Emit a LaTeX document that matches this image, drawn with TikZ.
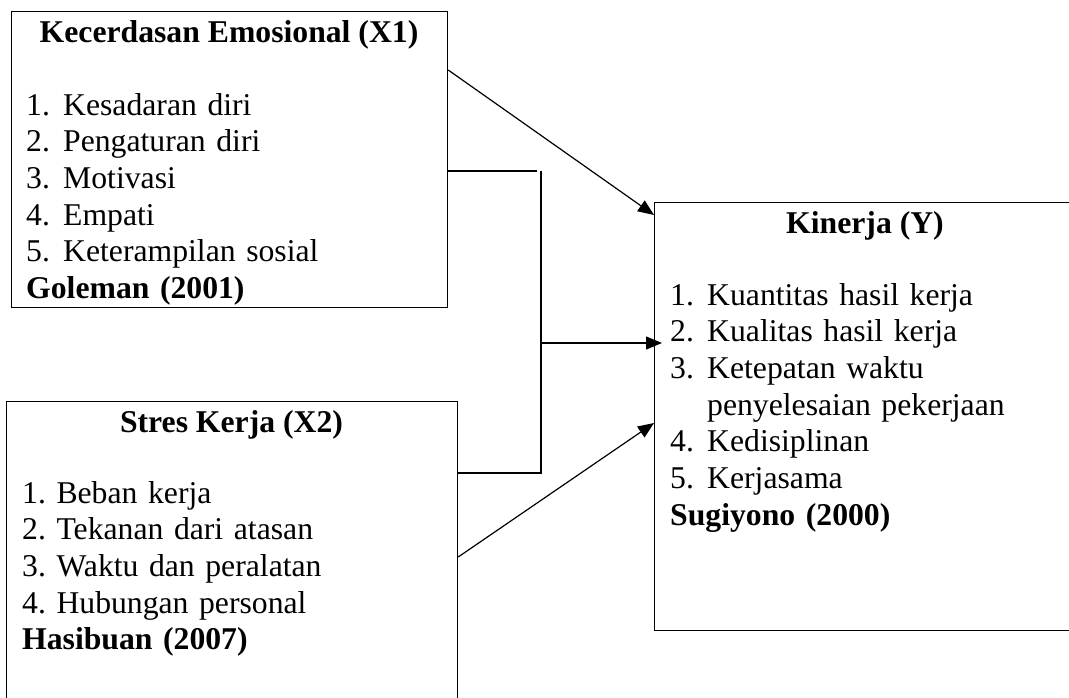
\documentclass[tikz,border=0pt]{standalone}
\usepackage{fontspec}
\setmainfont{Liberation Serif}
\usetikzlibrary{arrows.meta}
\frenchspacing

\newcommand{\itemno}[1]{\makebox[37pt][l]{#1}}

\tikzset{
    box/.style={draw, line width=1.2pt, inner sep=0pt, anchor=north west},
    head/.style={font=\fontsize{31.7}{36.7}\selectfont\bfseries, inner sep=0pt, anchor=base},
    items/.style={font=\fontsize{31.7}{36.7}\selectfont\frenchspacing, inner sep=0pt, anchor=base west, text width=400pt, align=left},
    link/.style={line width=1.2pt},
    arr/.style={link, -{Triangle[length=16pt, width=13pt]}}
}

\begin{document}
\begin{tikzpicture}[x=1pt, y=-1pt]
        \useasboundingbox (0, 0) rectangle (1069, 697);
        \clip (0, 0) rectangle (1069, 697);

        \node[box, minimum width=436pt, minimum height=296pt] (X1) at (11, 11) {};
        \node[box, minimum width=451pt, minimum height=310pt] (X2) at (6, 401) {};
        \node[box, minimum width=422pt, minimum height=428pt] (Y) at (654, 202) {};

        \node[head] (X1h) at (229, 42) {Kecerdasan Emosional (X1)};
        \node[head] (X2h) at (231.5, 432) {Stres Kerja (X2)};
        \node[head] (Yh) at (865, 233) {Kinerja (Y)};

        \node[items] (X1l) at (26, 115) {\itemno{1.}Kesadaran diri\\ \itemno{2.}Pengaturan diri\\ \itemno{3.}Motivasi\\ \itemno{4.}Empati\\ \itemno{5.}Keterampilan sosial\\ \textbf{Goleman (2001)}};
        \node[items] (X2l) at (22, 503) {1. Beban kerja\\ 2. Tekanan dari atasan\\ 3. Waktu dan peralatan\\ 4. Hubungan personal\\ \textbf{Hasibuan (2007)}};
        \node[items] (Yl) at (670, 305) {\itemno{1.}Kuantitas hasil kerja\\ \itemno{2.}Kualitas hasil kerja\\ \itemno{3.}Ketepatan waktu\\ \itemno{}penyelesaian pekerjaan\\ \itemno{4.}Kedisiplinan\\ \itemno{5.}Kerjasama\\ \textbf{Sugiyono (2000)}};

        \coordinate (a1s) at ([yshift=-59pt]X1.north east);
        \coordinate (a1e) at ([yshift=-13pt]Y.north west);
        \coordinate (b1) at ([yshift=-160pt]X1.north east);
        \coordinate (b2) at (537, 171);
        \coordinate (jt) at (541, 171);
        \coordinate (jm) at (541, 343);
        \coordinate (jb) at (541, 473);
        \coordinate (b3) at ([yshift=-72pt]X2.north east);
        \coordinate (me) at ([xshift=8pt, yshift=-141pt]Y.north west);
        \coordinate (a3s) at ([yshift=-156pt]X2.north east);
        \coordinate (a3e) at ([yshift=-221pt]Y.north west);

        \draw[arr] (a1s) -- (a1e);
        \draw[link] (b1) -- (b2);
        \draw[link] (jt) -- (jb) -- (b3);
        \draw[arr] (jm) -- (me);
        \draw[arr] (a3s) -- (a3e);
\end{tikzpicture}
\end{document}
